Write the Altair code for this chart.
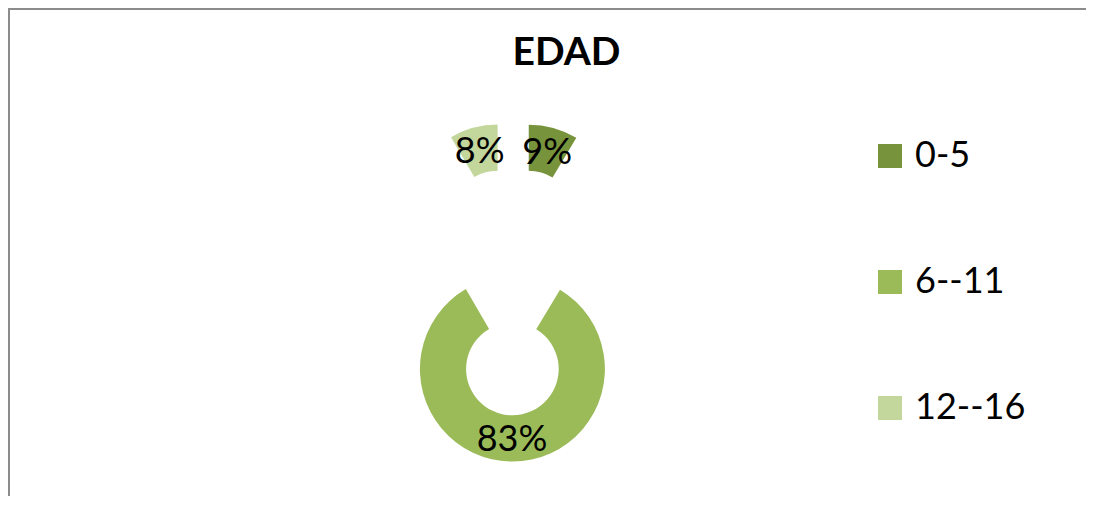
import altair as alt
import pandas as pd

# ---- data ----
CATEGORIES = ["0-5", "6--11", "12--16"]
VALUES = [8.6, 83.0, 8.4]          # shares (labels show 9%, 83%, 8%)
TITLE = "EDAD"

# ---- style ----
COLORS = ["#77933C", "#9BBB59", "#C3D69B"]
EXPLODE = {"0-5": 59, "6--11": 95, "12--16": 59}
W, H = 1078, 488
CX, CY = 505, 266
R_OUT, R_IN = 92.5, 46.3
R_LABEL = 69
FONT = "Lato"

df = pd.DataFrame({"cat": CATEGORIES, "value": VALUES, "order": list(range(len(CATEGORIES)))})

explode_expr = " : ".join(
    [f"datum.cat === '{k}' ? {v}" for k, v in EXPLODE.items()] + ["0"]
)

base = (
    alt.Chart(df)
    .transform_joinaggregate(total="sum(value)")
    .transform_window(cum="sum(value)", sort=[alt.SortField("order")], frame=[None, 0])
    .transform_calculate(
        t1="datum.cum / datum.total * 2 * PI",
        t0="(datum.cum - datum.value) / datum.total * 2 * PI",
    )
    .transform_calculate(mid="(datum.t0 + datum.t1) / 2", ex=explode_expr)
    .transform_calculate(
        cx=f"{CX} + datum.ex * sin(datum.mid)",
        cy=f"{CY} - datum.ex * cos(datum.mid)",
        pct="format(datum.value / datum.total, '.0%')",
    )
    .transform_calculate(
        lx=f"datum.cx + {R_LABEL} * sin(datum.mid)",
        ly=f"datum.cy - {R_LABEL} * cos(datum.mid)",
    )
)

arcs = base.mark_arc(radius=R_OUT, radius2=R_IN, strokeWidth=0).encode(
    theta=alt.Theta("t0:Q", scale=None),
    theta2="t1:Q",
    x=alt.X("cx:Q", scale=None),
    y=alt.Y("cy:Q", scale=None),
    color=alt.Color(
        "cat:N",
        scale=alt.Scale(domain=CATEGORIES, range=COLORS),
        legend=alt.Legend(
            orient="none",
            legendX=864,
            legendY=130,
            title=None,
            symbolType="square",
            symbolSize=576,
            symbolStrokeWidth=0,
            symbolOpacity=1,
            labelFontSize=36,
            labelFont=FONT,
            labelColor="#000000",
            labelOffset=7,
            rowPadding=90,
            padding=0,
        ),
    ),
)

labels = base.mark_text(
    font=FONT, fontSize=36, color="#000000", align="center", baseline="alphabetic", dy=13
).encode(
    x=alt.X("lx:Q", scale=None),
    y=alt.Y("ly:Q", scale=None),
    text="pct:N",
)

title = alt.Chart(pd.DataFrame({"t": [TITLE]})).mark_text(
    font=FONT, fontSize=39, fontWeight="bold", color="#000000", align="center", baseline="alphabetic"
).encode(x=alt.value(558.5), y=alt.value(56.5), text="t:N")

left_border = alt.Chart(pd.DataFrame({"a": [0]})).mark_rule(color="#8c8c8c", strokeWidth=2).encode(
    x=alt.value(1), y=alt.value(0), y2=alt.value(H)
)
top_border = alt.Chart(pd.DataFrame({"a": [0]})).mark_rule(color="#8c8c8c", strokeWidth=2).encode(
    y=alt.value(1), x=alt.value(0), x2=alt.value(W)
)

chart = (
    alt.layer(left_border, top_border, arcs, labels, title)
    .properties(width=W, height=H, padding=0, autosize=alt.AutoSizeParams(type="none"))
    .configure_view(stroke=None)
)

chart.save("out.html", embed_options={"renderer": "svg", "actions": False})
